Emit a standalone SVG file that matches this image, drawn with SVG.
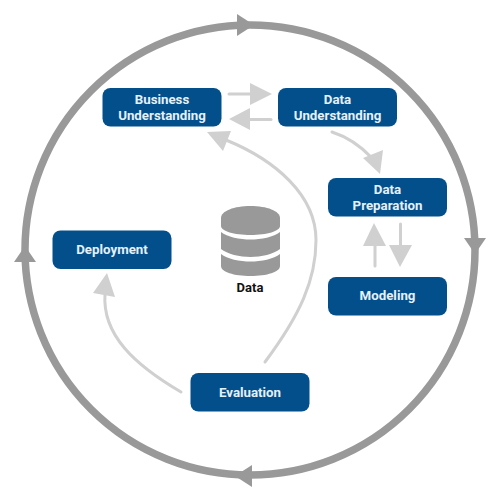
<svg xmlns="http://www.w3.org/2000/svg" width="500" height="500" viewBox="0 0 500 500">
<style>
.node{fill:#034f8c}
.lbl{font-family:Roboto,"Liberation Sans",sans-serif;font-weight:700;font-size:13.300px;fill:#e4f2f8;text-anchor:middle}
.ring{fill:#999}
.flow{fill:none;stroke:#d0d0d0;stroke-width:3;stroke-linecap:round}
.head{fill:#d0d0d0}
.db{fill:#999}
</style>
<rect width="500" height="500" fill="#fff"/>
<g id="cycle">
<circle cx="250" cy="250" r="225" fill="none" stroke="#999" stroke-width="7.500"/>
<polygon class="ring" points="237,14 254,25 237,36"/>
<polygon class="ring" points="464,238 486,238 475,254"/>
<polygon class="ring" points="252,465 252,487 235,476"/>
<polygon class="ring" points="14,262 36,262 25,246"/>
</g>
<g id="connectors">
<path class="flow" d="M229 94H252"/><polygon class="head" points="250,83 250,105 272,94"/>
<path class="flow" d="M271 119.500H248"/><polygon class="head" points="250,108 250,130 229,119"/>
<path class="flow" d="M332 132Q354 139 372 158"/><polygon class="head" points="383,150 363,158 380,174"/>
<path class="flow" d="M265 362C300 315 316 280 316 240C316 195 275 160 226 140"/><polygon class="head" points="207,132 231,131 223,151"/>
<path class="flow" d="M181 392C135 365 102 335 105 294"/><polygon class="head" points="107,273 93,293 115,297"/>
<path class="flow" d="M375 266V244"/><polygon class="head" points="374,223 363,246 386,246"/>
<path class="flow" d="M400.500 224V247"/><polygon class="head" points="389,245 412,245 400,267"/>
</g>
<g id="business-understanding"><rect class="node" x="102.500" y="88" width="119" height="38.500" rx="8"/><text class="lbl" x="162" y="104">Business</text><text class="lbl" x="162" y="120">Understanding</text></g>
<g id="data-understanding"><rect class="node" x="278" y="88" width="119" height="38.500" rx="8"/><text class="lbl" x="337.500" y="104">Data</text><text class="lbl" x="337.500" y="120">Understanding</text></g>
<g id="data-preparation"><rect class="node" x="328" y="178" width="119" height="38.500" rx="8"/><text class="lbl" x="387.500" y="194">Data</text><text class="lbl" x="387.500" y="210">Preparation</text></g>
<g id="modeling"><rect class="node" x="328" y="277" width="119" height="38.500" rx="8"/><text class="lbl" x="387.500" y="300">Modeling</text></g>
<g id="deployment"><rect class="node" x="52.500" y="230.500" width="119" height="38.500" rx="8"/><text class="lbl" x="112" y="254">Deployment</text></g>
<g id="evaluation"><rect class="node" x="190.500" y="373" width="119" height="38.500" rx="8"/><text class="lbl" x="250" y="396.500">Evaluation</text></g>
<g id="data">
<path class="db" d="M221 218C221 211 234 206 250.500 206C267 206 280 211 280 218V226C280 231 267 235 250.500 235C234 235 221 231 221 226Z"/>
<path class="db" d="M221 232C227 237 240 239.500 250.500 239.500C261 239.500 274 237 280 232V249C274 254 261 257 250.500 257C240 257 227 254 221 249Z"/>
<path class="db" d="M221 254C227 259 240 261.500 250.500 261.500C261 261.500 274 259 280 254V266C280 272 267 276 250.500 276C234 276 221 272 221 266Z"/>
<text x="250" y="291.500" style="font-family:Roboto,'Liberation Sans',sans-serif;font-weight:700;font-size:13px;fill:#111;text-anchor:middle">Data</text>
</g>
</svg>
